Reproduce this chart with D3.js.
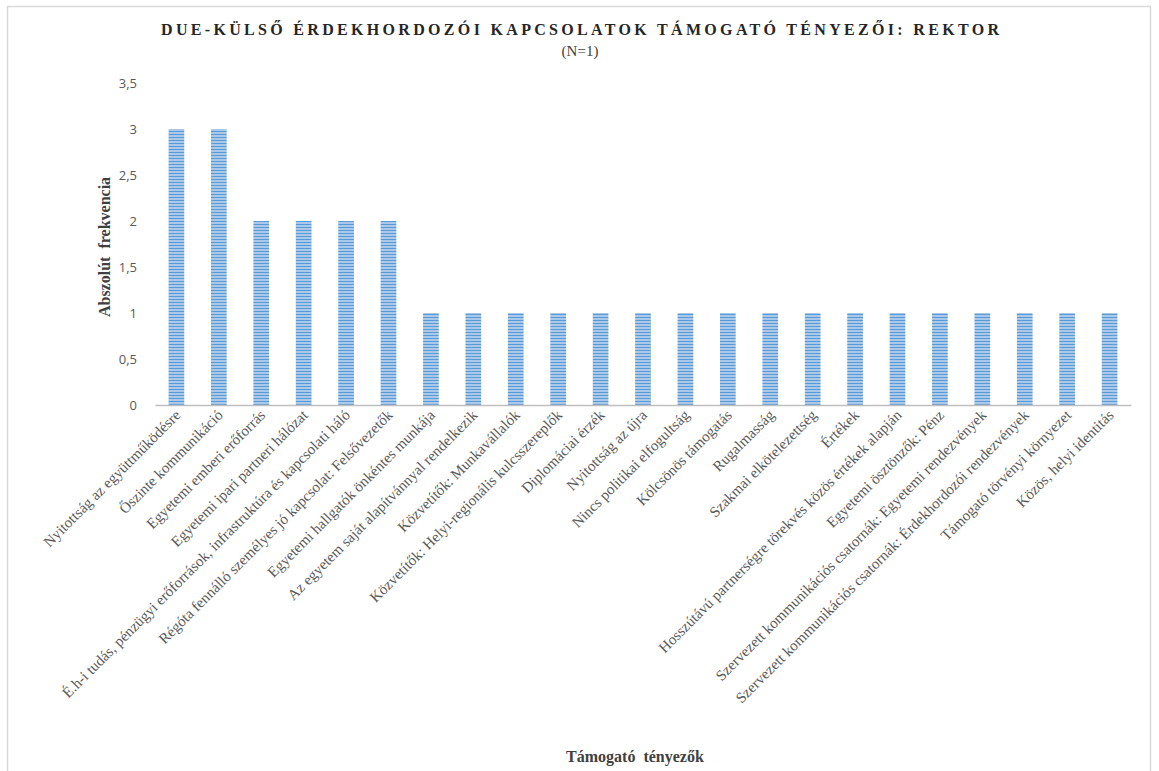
<!DOCTYPE html>
<html>
<head>
<meta charset="utf-8">
<script src="https://cdn.jsdelivr.net/npm/d3@7"></script>
<style>
  html, body { margin: 0; padding: 0; background: #fff; }
  svg { display: block; }
</style>
</head>
<body>
<svg id="chart" width="1159" height="771"></svg>
<script>
// Támogató tényezők és abszolút gyakoriságuk
const categories = [
  "Nyitottság az együttműködésre",
  "Őszinte kommunikáció",
  "Egyetemi emberi erőforrás",
  "Egyetemi ipari partneri hálózat",
  "É.h-i tudás, pénzügyi erőforrások, infrastruktúra és kapcsolati háló",
  "Régóta fennálló személyes jó kapcsolat: Felsővezetők",
  "Egyetemi hallgatók önkéntes munkája",
  "Az egyetem saját alapítvánnyal rendelkezik",
  "Közvetítők: Munkavállalók",
  "Közvetítők: Helyi-regionális kulcsszereplők",
  "Diplomáciai érzék",
  "Nyitottság az újra",
  "Nincs politikai elfogultság",
  "Kölcsönös támogatás",
  "Rugalmasság",
  "Szakmai elkötelezettség",
  "Értékek",
  "Hosszútávú partnerségre törekvés közös értékek alapján",
  "Egyetemi ösztönzők: Pénz",
  "Szervezett kommunikációs csatornák: Egyetemi rendezvények",
  "Szervezett kommunikációs csatornák: Érdekhordozói rendezvények",
  "Támogató törvényi környezet",
  "Közös, helyi identitás"
];
const frequencies = [3, 3, 2, 2, 2, 2, 1, 1, 1, 1, 1, 1, 1, 1, 1, 1, 1, 1, 1, 1, 1, 1, 1];
const yTicks = [0, 0.5, 1, 1.5, 2, 2.5, 3, 3.5];

const titleText = "DUE-KÜLSŐ ÉRDEKHORDOZÓI KAPCSOLATOK TÁMOGATÓ TÉNYEZŐI: REKTOR";
const subtitleText = "(N=1)";
const yTitle = "Abszolút  frekvencia";
const xTitle = "Támogató  tényezők";

const svg = d3.select("#chart");
const plot = { left: 155, right: 1131, top: 83, bottom: 405 };
const serif = "'Liberation Serif', 'Times New Roman', serif";

// Striped fill for the bars
const defs = svg.append("defs");
const pat = defs.append("pattern")
  .attr("id", "stripes")
  .attr("patternUnits", "userSpaceOnUse")
  .attr("width", 8).attr("height", 3);
pat.append("rect").attr("width", 8).attr("height", 3).attr("fill", "#a9c8ea");
pat.append("rect").attr("y", 2).attr("width", 8).attr("height", 1).attr("fill", "#5b9bd5");

// Chart frame
svg.append("rect")
  .attr("x", 7.5).attr("y", 6.5)
  .attr("width", 1143).attr("height", 780)
  .attr("fill", "#fff")
  .attr("stroke", "#d9d9d9").attr("stroke-width", 1.5);

const x = d3.scaleBand()
  .domain(categories)
  .range([plot.left, plot.right])
  .paddingInner(0.63).paddingOuter(0.32);

const y = d3.scaleLinear()
  .domain([0, 3.5])
  .range([plot.bottom, plot.top]);

// Bars
svg.append("g").selectAll("rect")
  .data(categories)
  .join("rect")
  .attr("x", d => x(d))
  .attr("y", (d, i) => y(frequencies[i]))
  .attr("width", x.bandwidth())
  .attr("height", (d, i) => y(0) - y(frequencies[i]))
  .attr("fill", "url(#stripes)");

// Y axis labels
const fmt = v => String(v).replace(".", ",");
const yAxis = svg.append("g")
  .attr("transform", `translate(${plot.left - 14},0)`)
  .call(d3.axisLeft(y).tickValues(yTicks).tickFormat(fmt).tickSize(0).tickPadding(4));
yAxis.select(".domain").remove();
yAxis.selectAll("text")
  .attr("fill", "#595959")
  .style("font-family", "'Open Sans', 'Liberation Sans', sans-serif")
  .style("font-size", "13px");

// X axis line and rotated category labels
const xAxis = svg.append("g")
  .attr("transform", `translate(0,${plot.bottom})`)
  .call(d3.axisBottom(x).tickSize(0).tickPadding(0));
xAxis.select(".domain")
  .attr("stroke", "#bfbfbf").attr("stroke-width", 1.5);
xAxis.selectAll(".tick text")
  .attr("fill", "#595959")
  .attr("text-anchor", "end")
  .attr("dy", null)
  .attr("y", 0)
  .attr("transform", "translate(5,11) rotate(-45)")
  .style("font-family", serif)
  .style("font-size", "15px");

// Titles
svg.append("text")
  .attr("x", 580).attr("y", 35)
  .attr("text-anchor", "middle")
  .attr("textLength", 838)
  .attr("lengthAdjust", "spacing")
  .attr("fill", "#262626")
  .style("font-family", serif)
  .style("font-weight", "bold")
  .style("font-size", "16px")
  .text(titleText);

svg.append("text")
  .attr("x", 580).attr("y", 56)
  .attr("text-anchor", "middle")
  .attr("fill", "#404040")
  .style("font-family", serif)
  .style("font-size", "15px")
  .text(subtitleText);

svg.append("text")
  .attr("transform", "translate(110,247) rotate(-90)")
  .attr("text-anchor", "middle")
  .attr("fill", "#404040")
  .style("white-space", "pre")
  .style("font-family", serif)
  .style("font-weight", "bold")
  .style("font-size", "16px")
  .text(yTitle);

svg.append("text")
  .attr("x", 635).attr("y", 762)
  .attr("text-anchor", "middle")
  .attr("fill", "#404040")
  .style("white-space", "pre")
  .style("font-family", serif)
  .style("font-weight", "bold")
  .style("font-size", "16px")
  .text(xTitle);
</script>
</body>
</html>
